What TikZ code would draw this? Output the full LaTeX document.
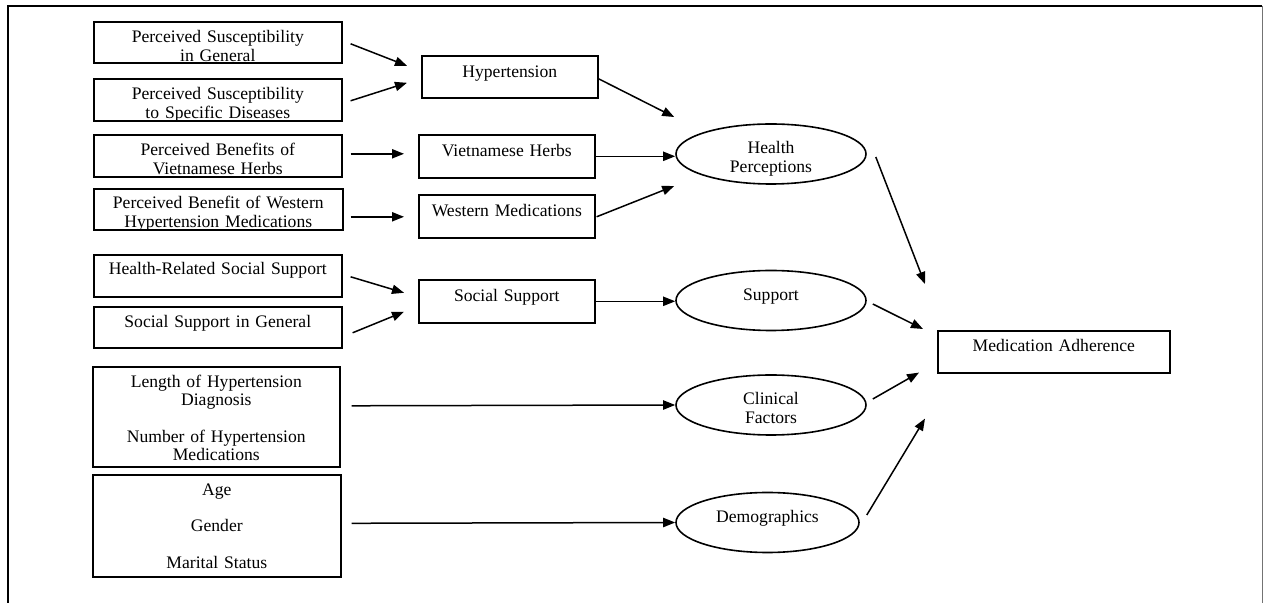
\documentclass[tikz,border=0pt]{standalone}
\usepackage{fontspec}
\setmainfont{Liberation Serif}
\usetikzlibrary{arrows.meta,shapes.geometric}
\tikzset{
  box/.style={draw, line width=0.8pt, rectangle, inner sep=0pt, anchor=north west,
    align=center, font=\fontsize{8.8}{9.15}\selectfont},
  ell/.style={draw, line width=0.8pt, ellipse, inner sep=0pt, minimum height=30pt,
    text width=60pt, align=center, text height=5pt, text depth=5pt,
    font=\fontsize{8.8}{9.15}\selectfont},
  arr/.style={line width=0.75pt, -{Triangle[length=6pt,width=4.6pt]}},
  frame/.style={line width=1pt}
}
\begin{document}
\begin{tikzpicture}[x=0.5pt,y=-0.5pt]
\useasboundingbox (0,0) rectangle (1264,603);
\draw[frame] (8,603) -- (8,6) -- (1262,6);
\draw[line width=0.5pt, black!55] (1262,6) -- (1262,603);

% left boxes
\node[box, text width=124pt, text height=10.5pt, text depth=10pt] (psg) at (93,21)
  {Perceived Susceptibility\\in General};
\node[box, text width=124pt, text height=10.5pt, text depth=10.5pt] (pssd) at (93,78)
  {Perceived Susceptibility\\to Specific Diseases};
\node[box, text width=124pt, text height=10.5pt, text depth=10.5pt] (pbvh) at (93,134)
  {Perceived Benefits of\\Vietnamese Herbs};
\node[box, text width=124.5pt, text height=10pt, text depth=10.5pt] (pbw) at (93,188)
  {Perceived Benefit of Western\\Hypertension Medications};
\node[box, text width=124pt, text height=10pt, text depth=11pt] (hrss) at (93,254)
  {Health-Related Social Support};
\node[box, text width=124pt, text height=10.25pt, text depth=10.25pt] (ssg) at (93,306)
  {Social Support in General};
\node[box, text width=123.5pt, text height=10.35pt, text depth=39.65pt] (len) at (92,366)
  {Length of Hypertension\\Diagnosis\\[9.15pt]Number of Hypertension\\Medications};
\node[box, text width=124pt, text height=10.25pt, text depth=40.75pt] (age) at (92,474)
  {Age\\[9.15pt]Gender\\[9.15pt]Marital Status};

% middle boxes
\node[box, text width=88pt, text height=10.75pt, text depth=10.25pt] (hyp) at (421,55)
  {Hypertension};
\node[box, text width=88pt, text height=10.75pt, text depth=10.75pt] (vh) at (418,134)
  {Vietnamese Herbs};
\node[box, text width=88pt, text height=10.75pt, text depth=10.75pt] (wm) at (418,194)
  {Western Medications};
\node[box, text width=88pt, text height=10.75pt, text depth=10.75pt] (ss) at (418,279)
  {Social Support};

% ellipses
\node[ell, minimum width=95pt] (hp) at (771,154) {Health\\Perceptions};
\node[ell, minimum width=95pt] (sup) at (771,300.5) {Support};
\node[ell, minimum width=95pt] (cf) at (771,405) {Clinical\\Factors};
\node[ell, minimum width=91.5pt] (dm) at (767.5,522.5) {Demographics};

% outcome
\node[box, text width=116pt, text height=10.5pt, text depth=10.5pt] (ma) at (937,330)
  {Medication Adherence};

% connectors
\draw[arr] ([shift={(8,1.5)}]psg.east) -- ([shift={(-14,-11)}]hyp.west);
\draw[arr] ([shift={(8,1)}]pssd.east) -- ([shift={(-14,6)}]hyp.west);
\draw[arr] ([shift={(8,-2)}]pbvh.east) -- ([shift={(-14,-2.5)}]vh.west);
\draw[arr] ([shift={(7,7.5)}]pbw.east) -- ([shift={(-14,0.5)}]wm.west);
\draw[arr] ([shift={(8,1)}]hrss.east) -- ([shift={(-14,-8.5)}]ss.west);
\draw[arr] ([shift={(10,5.5)}]ssg.east) -- ([shift={(-14,10.5)}]ss.west);

\draw[arr] ([shift={(0,2)}]hyp.east) -- ([shift={(-1,-37)}]hp.west);
\draw[arr] (vh.east) -- (vh.east -| hp.west);
\draw[arr] ([shift={(1,0.5)}]wm.east) -- ([shift={(-1,32)}]hp.west);
\draw[arr] (ss.east) -- (ss.east -| sup.west);
\draw[arr] ([shift={(11,-11)}]len.east) -- (cf.west);
\draw[arr] ([shift={(10,-2.5)}]age.east) -- (dm.west);

\draw[arr] ([shift={(9,3)}]hp.east) -- ([shift={(-12,-46)}]ma.north west);
\draw[arr] ([shift={(6,3.5)}]sup.east) -- ([shift={(-14,-1)}]ma.north west);
\draw[arr] ([shift={(6,-6)}]cf.east) -- ([shift={(-18,-1)}]ma.south west);
\draw[arr] ([shift={(7,-7.5)}]dm.east) -- ([shift={(-12,45)}]ma.south west);
\end{tikzpicture}
\end{document}
